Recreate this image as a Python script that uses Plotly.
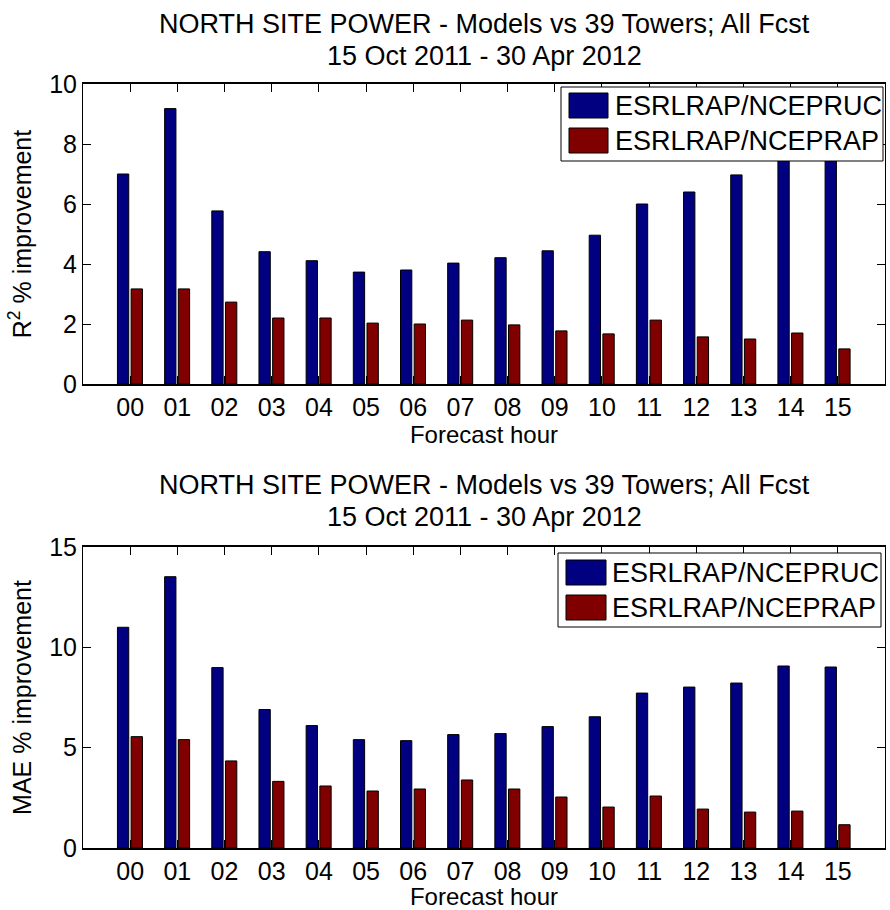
import plotly.graph_objects as go

hours = list(range(16))
hour_labels = ["00", "01", "02", "03", "04", "05", "06", "07",
               "08", "09", "10", "11", "12", "13", "14", "15"]
series_names = ["ESRLRAP/NCEPRUC", "ESRLRAP/NCEPRAP"]

r2_ruc = [7.0, 9.18, 5.77, 4.41, 4.11, 3.73, 3.80, 4.03,
          4.21, 4.44, 4.96, 6.00, 6.40, 6.97, 7.65, 7.60]
r2_rap = [3.17, 3.17, 2.73, 2.20, 2.20, 2.03, 2.00, 2.13,
          1.97, 1.77, 1.67, 2.13, 1.57, 1.50, 1.70, 1.17]

mae_ruc = [11.0, 13.52, 8.99, 6.90, 6.10, 5.40, 5.35, 5.65,
           5.70, 6.05, 6.54, 7.72, 8.02, 8.22, 9.07, 9.02]
mae_rap = [5.55, 5.40, 4.34, 3.32, 3.09, 2.84, 2.94, 3.39,
           2.94, 2.54, 2.04, 2.59, 1.94, 1.79, 1.84, 1.16]

title_line1 = "NORTH SITE POWER - Models vs 39 Towers; All Fcst"
title_line2 = "15 Oct 2011 - 30 Apr 2012"

BLUE = "#000080"
RED = "#800000"
COLORS = [BLUE, RED]
FONT = "Liberation Sans, Arial, sans-serif"

W, H = 890, 910
ML, MR, MT, MB = 83, 5, 84, 62
plot_h = H - MT - MB
plot_w = W - ML - MR

def py(pix):
    return 1 - (pix - MT) / plot_h

def px(pix):
    return (pix - ML) / plot_w

fig = go.Figure()

def add_pair(vals_a, vals_b, xa, ya):
    fig.add_trace(go.Bar(x=hours, y=vals_a, name=series_names[0],
                         marker=dict(color=BLUE, line=dict(color="black", width=1)),
                         width=0.24, offset=-0.27, xaxis=xa, yaxis=ya, showlegend=False))
    fig.add_trace(go.Bar(x=hours, y=vals_b, name=series_names[1],
                         marker=dict(color=RED, line=dict(color="black", width=1)),
                         width=0.24, offset=0.02, xaxis=xa, yaxis=ya, showlegend=False))

add_pair(r2_ruc, r2_rap, "x", "y")
add_pair(mae_ruc, mae_rap, "x2", "y2")

axis_common = dict(showline=True, linecolor="black", mirror="ticks",
                   ticks="inside", ticklen=8, tickcolor="black", tickwidth=1,
                   showgrid=False, zeroline=False, tickfont=dict(size=25, color="black"))

top_dom = [py(384), 1.0]
bot_dom = [0.0, py(547)]

fig.update_layout(
    width=W, height=H,
    margin=dict(l=ML, r=MR, t=MT, b=MB),
    paper_bgcolor="white", plot_bgcolor="white",
    font=dict(family=FONT, size=25, color="black"),
    barmode="overlay",
    showlegend=False,
    xaxis=dict(domain=[0, 1], anchor="y", range=[-1, 16], tickvals=hours, ticktext=hour_labels,
               linewidth=2,
               title=dict(text="Forecast hour", font=dict(size=24), standoff=0), **axis_common),
    yaxis=dict(domain=top_dom, anchor="x", range=[0, 10], dtick=2, linewidth=1,
               title=dict(text="R<sup>2</sup> % improvement", font=dict(size=25), standoff=10),
               **axis_common),
    xaxis2=dict(domain=[0, 1], anchor="y2", range=[-1, 16], tickvals=hours, ticktext=hour_labels,
                linewidth=2,
                title=dict(text="Forecast hour", font=dict(size=24), standoff=0), **axis_common),
    yaxis2=dict(domain=bot_dom, anchor="x2", range=[0, 15], dtick=5, linewidth=1,
                title=dict(text="MAE % improvement", font=dict(size=25), standoff=10),
                **axis_common),
)

for pix, txt in [(24, title_line1), (56, title_line2), (485, title_line1), (517, title_line2)]:
    fig.add_annotation(text=txt, xref="paper", yref="paper", x=0.5, y=py(pix),
                       xanchor="center", yanchor="middle", showarrow=False,
                       font=dict(size=27, family=FONT, color="black"))

# legend boxes (drawn as shapes so the swatches match the reference size)
legend_specs = [
    dict(box=(561, 87, 883, 161), sw_x=(569, 608), rows=[(93, 118), (128, 153)], tx=613),
    dict(box=(558, 553, 881, 627), sw_x=(566, 606), rows=[(560, 585), (595, 620)], tx=610),
]
for spec in legend_specs:
    x0, y0, x1, y1 = spec["box"]
    fig.add_shape(type="rect", xref="paper", yref="paper", layer="above",
                  x0=px(x0), x1=px(x1), y0=py(y0), y1=py(y1),
                  line=dict(color="black", width=1), fillcolor="white")
    for i, (r0, r1) in enumerate(spec["rows"]):
        fig.add_shape(type="rect", xref="paper", yref="paper", layer="above",
                      x0=px(spec["sw_x"][0]), x1=px(spec["sw_x"][1]), y0=py(r0), y1=py(r1),
                      line=dict(color="black", width=1), fillcolor=COLORS[i])
        fig.add_annotation(text=series_names[i], xref="paper", yref="paper",
                           x=px(spec["tx"]), y=py((r0 + r1) / 2), xanchor="left",
                           yanchor="middle", showarrow=False,
                           font=dict(size=27, family=FONT, color="black"))

fig.write_html("out.html")
